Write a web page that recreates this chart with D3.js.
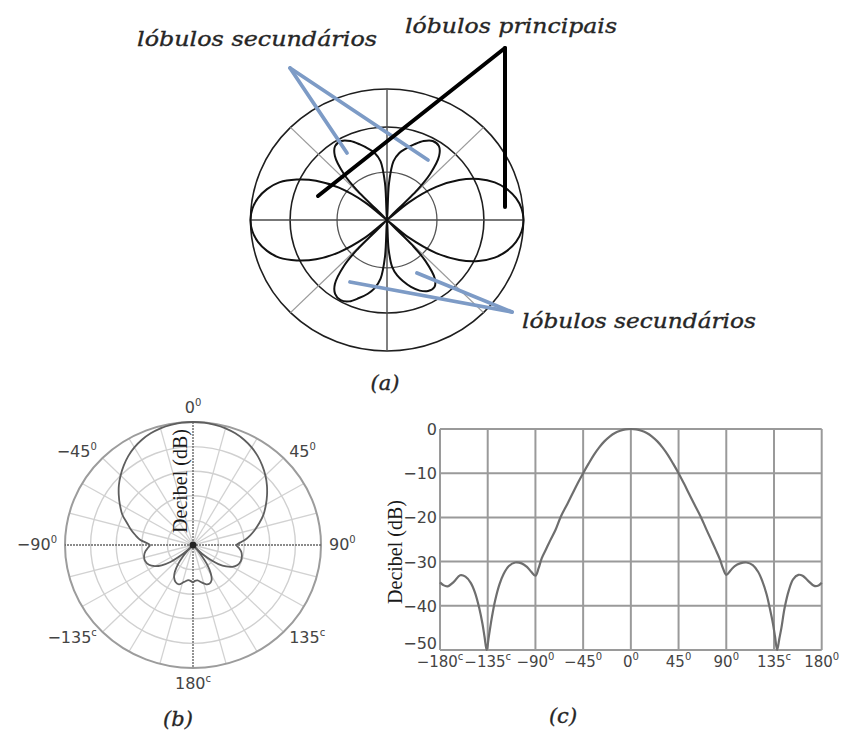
<!DOCTYPE html>
<html>
<head>
<meta charset="utf-8">
<script src="https://cdn.jsdelivr.net/npm/d3@7"></script>
<style>
  html, body { margin: 0; padding: 0; background: #fff; }
  svg { display: block; }
</style>
</head>
<body>
<svg id="fig" width="845" height="735"></svg>
<script>
// ---------- data ----------
// (a) conceptual radiation pattern: relative field (1 = outer ring) at angles measured
// from the horizontal axis towards the vertical axis, one list per quadrant
const lobeAngles = [0, 5, 10, 15, 20, 25, 30, 35, 40, 43, 46, 48, 52, 56, 61, 66, 71, 76, 80, 84, 87, 90];
const quadrantNE = [1.00, 0.99, 0.96, 0.91, 0.84, 0.74, 0.61, 0.44, 0.21, 0.00, 0.32, 0.47, 0.62, 0.68, 0.69, 0.66, 0.61, 0.56, 0.52, 0.45, 0.28, 0.00];
const quadrantNW = [1.00, 0.99, 0.96, 0.91, 0.84, 0.73, 0.60, 0.43, 0.21, 0.00, 0.32, 0.47, 0.62, 0.68, 0.69, 0.66, 0.61, 0.56, 0.52, 0.45, 0.28, 0.00];
const quadrantSW = [1.00, 0.99, 0.96, 0.91, 0.84, 0.73, 0.60, 0.43, 0.21, 0.00, 0.32, 0.47, 0.62, 0.68, 0.70, 0.68, 0.63, 0.58, 0.53, 0.45, 0.28, 0.00];
const quadrantSE = [1.00, 0.99, 0.96, 0.91, 0.84, 0.74, 0.61, 0.44, 0.21, 0.00, 0.27, 0.42, 0.57, 0.62, 0.62, 0.59, 0.54, 0.48, 0.43, 0.36, 0.22, 0.00];
const ringLevelsA = [1, 0.71, 0.366];

// (b) and (c) measured pattern: angle (degrees) and level (dB)
const patternDeg = [-180, -177, -173, -167, -161, -156, -151, -147, -143, -140, -138, -136, -134, -131, -128, -124, -120, -115, -109, -103, -98, -94, -90, -87, -84, -80, -76, -71, -66, -60, -55, -50, -45, -40, -35, -30, -25, -20, -15, -10, -5, 0,
  5, 10, 15, 20, 25, 30, 35, 40, 45, 50, 55, 60, 66, 71, 76, 80, 84, 87, 90, 94, 98, 103, 109, 115, 120, 124, 128, 131, 134, 136, 138, 140, 142, 145, 149, 153, 158, 162, 167, 173, 177, 180];
const patternDb = [-34.7, -35.3, -35.6, -34.6, -33.1, -33.4, -34.8, -37.0, -40.5, -44.0, -47.0, -50.0, -47.0, -42.5, -38.8, -35.2, -32.8, -31.0, -30.2, -30.4, -31.2, -32.3, -33.2, -31.5, -29.2, -27.2, -25.2, -22.8, -19.8, -17.0, -14.6, -12.2, -10.0, -7.9, -5.9, -4.2, -2.8, -1.7, -0.9, -0.4, -0.1, 0.0,
  -0.1, -0.4, -0.9, -1.7, -2.8, -4.2, -5.9, -7.9, -10.0, -12.3, -14.7, -17.1, -19.9, -22.6, -25.2, -27.3, -29.5, -31.6, -33.0, -32.0, -31.0, -30.4, -30.2, -30.8, -32.3, -34.4, -37.4, -40.5, -44.0, -47.0, -50.0, -47.5, -45.0, -40.5, -36.5, -34.0, -33.0, -33.2, -34.3, -35.5, -35.4, -34.8];

// polar (b) grid and labels
const ringDbB = [-40, -30, -20, -10, 0];
const spokeStepB = 15;
const polarLabelDeg = [0, 45, 90, 135, 180, -135, -90, -45];
const polarLabelText = ["0", "45", "90", "135", "180", "\u2212135", "\u221290", "\u221245"];
const polarLabelMark = ["0", "0", "0", "c", "c", "c", "0", "0"];

// rectangular (c) ticks
const xTicksC = [-180, -135, -90, -45, 0, 45, 90, 135, 180];
const xTickTextC = ["\u2212180", "\u2212135", "\u221290", "\u221245", "0", "45", "90", "135", "180"];
const xTickMarkC = ["c", "c", "0", "0", "0", "0", "0", "c", "0"];
const yTicksC = [0, -10, -20, -30, -40, -50];

// ---------- drawing ----------
const svg = d3.select("#fig");
const serifItalic = "'DejaVu Serif', serif";
const sans = "'DejaVu Sans', sans-serif";
const rad = d => d * Math.PI / 180;

// ===== (a) =====
const gA = svg.append("g");
const cxA = 387, cyA = 220, rxA = 136.5, ryA = 131;
const ax = d3.scaleLinear().domain([-1, 1]).range([cxA - rxA, cxA + rxA]);
const ay = d3.scaleLinear().domain([-1, 1]).range([cyA + ryA, cyA - ryA]);

// rings
gA.selectAll("ellipse.ring").data(ringLevelsA).join("ellipse")
  .attr("cx", ax(0)).attr("cy", ay(0))
  .attr("rx", d => ax(d) - ax(0)).attr("ry", d => ay(0) - ay(d))
  .attr("fill", "none")
  .attr("stroke", (d, i) => i < 2 ? "#1e1e1e" : "#555")
  .attr("stroke-width", (d, i) => i < 2 ? 1.6 : 1.3);

// diagonal spokes
[45, 135].forEach(a => {
  gA.append("line")
    .attr("x1", ax(Math.cos(rad(a)))).attr("y1", ay(Math.sin(rad(a))))
    .attr("x2", ax(-Math.cos(rad(a)))).attr("y2", ay(-Math.sin(rad(a))))
    .attr("stroke", "#9a9a9a").attr("stroke-width", 1.3);
});
// main axes
[0, 90].forEach(a => {
  gA.append("line")
    .attr("x1", ax(Math.cos(rad(a)))).attr("y1", ay(Math.sin(rad(a))))
    .attr("x2", ax(-Math.cos(rad(a)))).attr("y2", ay(-Math.sin(rad(a))))
    .attr("stroke", "#4a4a4a").attr("stroke-width", 1.4);
});

// assemble the closed pattern, quadrant by quadrant
const ptsA = [];
const n = lobeAngles.length;
lobeAngles.forEach((a, i) => ptsA.push({ t: a, r: quadrantNE[i] }));
for (let i = n - 2; i >= 0; i--) ptsA.push({ t: 180 - lobeAngles[i], r: quadrantNW[i] });
for (let i = 1; i < n; i++) ptsA.push({ t: 180 + lobeAngles[i], r: quadrantSW[i] });
for (let i = n - 2; i >= 1; i--) ptsA.push({ t: 360 - lobeAngles[i], r: quadrantSE[i] });

const lineA = d3.line()
  .x(d => ax(d.r * Math.cos(rad(d.t))))
  .y(d => ay(d.r * Math.sin(rad(d.t))))
  .curve(d3.curveCatmullRomClosed.alpha(0.5));
gA.append("path").attr("d", lineA(ptsA))
  .attr("fill", "none").attr("stroke", "#111").attr("stroke-width", 2);

// callout lines
const blue = "#7d9bc6";
const callouts = [
  { x1: 290, y1: 68, x2: 347, y2: 153, c: blue, w: 3.8 },
  { x1: 290, y1: 68, x2: 428, y2: 160, c: blue, w: 3.8 },
  { x1: 512, y1: 312, x2: 350, y2: 282, c: blue, w: 3.8 },
  { x1: 512, y1: 312, x2: 417, y2: 273, c: blue, w: 3.8 },
  { x1: 505, y1: 48, x2: 318, y2: 196, c: "#000", w: 4 },
  { x1: 505, y1: 48, x2: 505, y2: 207, c: "#000", w: 4 }
];
gA.selectAll("line.call").data(callouts).join("line")
  .attr("x1", d => d.x1).attr("y1", d => d.y1).attr("x2", d => d.x2).attr("y2", d => d.y2)
  .attr("stroke", d => d.c).attr("stroke-width", d => d.w).attr("stroke-linecap", "round");

function italicLabel(x, y, text, len) {
  const t = svg.append("text").attr("x", x).attr("y", y)
    .attr("font-family", serifItalic).attr("font-style", "italic")
    .attr("font-size", 21).attr("fill", "#262626")
    .attr("stroke", "#262626").attr("stroke-width", 0.35).text(text);
  if (len) t.attr("textLength", len).attr("lengthAdjust", "spacingAndGlyphs");
  return t;
}
italicLabel(137, 46, "lóbulos secundários", 240);
italicLabel(405, 33, "lóbulos principais", 212);
italicLabel(522, 328, "lóbulos secundários", 234);
italicLabel(385, 390, "(a)").attr("text-anchor", "middle");

// ===== (b) =====
const gB = svg.append("g");
const cxB = 193, cyB = 545, rxB = 128, ryB = 123;
const rB = d3.scaleLinear().domain([-50, 0]).range([0, 1]).clamp(true);
const bx = d3.scaleLinear().domain([-1, 1]).range([cxB - rxB, cxB + rxB]);
const by = d3.scaleLinear().domain([-1, 1]).range([cyB + ryB, cyB - ryB]);

// light spokes
const spokes = d3.range(0, 360, spokeStepB).filter(a => a % 90 !== 0);
gB.selectAll("line.spoke").data(spokes).join("line")
  .attr("x1", bx(0)).attr("y1", by(0))
  .attr("x2", a => bx(Math.sin(rad(a)))).attr("y2", a => by(Math.cos(rad(a))))
  .attr("stroke", "#d2d2d2").attr("stroke-width", 1.3);
// rings
gB.selectAll("ellipse.ring").data(ringDbB).join("ellipse")
  .attr("cx", bx(0)).attr("cy", by(0))
  .attr("rx", d => bx(rB(d)) - bx(0)).attr("ry", d => by(0) - by(rB(d)))
  .attr("fill", "none")
  .attr("stroke", d => d === 0 ? "#9c9c9c" : "#d0d0d0")
  .attr("stroke-width", d => d === 0 ? 2 : 1.4);
// main axes (dotted)
[0, 90].forEach(a => {
  gB.append("line")
    .attr("x1", bx(Math.sin(rad(a)))).attr("y1", by(Math.cos(rad(a))))
    .attr("x2", bx(-Math.sin(rad(a)))).attr("y2", by(-Math.cos(rad(a))))
    .attr("stroke", "#666").attr("stroke-width", 1.4).attr("stroke-dasharray", "2,1");
});

const ptsB = patternDeg.map((d, i) => ({ t: d, v: patternDb[i] })).filter(d => d.t > -180);
const lineB = d3.line()
  .x(d => bx(rB(d.v) * Math.sin(rad(d.t))))
  .y(d => by(rB(d.v) * Math.cos(rad(d.t))))
  .curve(d3.curveCatmullRomClosed.alpha(0.5));
gB.append("path").attr("d", lineB(ptsB))
  .attr("fill", "none").attr("stroke", "#5e5e5e").attr("stroke-width", 1.8);
gB.append("circle").attr("cx", bx(0)).attr("cy", by(0)).attr("r", 3.5).attr("fill", "#222");

// angle labels
function supLabel(sel, text, mark) {
  sel.append("tspan").text(text);
  sel.append("tspan").attr("font-size", 10).attr("dy", -7).text(mark);
}
polarLabelDeg.forEach((a, i) => {
  const s = Math.sin(rad(a)), c = Math.cos(rad(a));
  const lx = cxB + (rxB + 8) * s, ly = cyB - (ryB + 8) * c;
  const anchor = s > 0.1 ? "start" : (s < -0.1 ? "end" : "middle");
  const dy = c > 0.9 ? -1 : (c < -0.9 ? 13 : 5);
  const t = svg.append("text").attr("x", lx).attr("y", ly + dy)
    .attr("text-anchor", anchor).attr("font-family", sans).attr("font-size", 16).attr("fill", "#444");
  supLabel(t, polarLabelText[i], polarLabelMark[i]);
});
svg.append("text").attr("transform", `translate(187,481) rotate(-90)`)
  .attr("text-anchor", "middle").attr("font-family", "'Liberation Serif', serif")
  .attr("font-size", 20).attr("fill", "#1a1a1a").text("Decibel (dB)");
italicLabel(178, 726, "(b)").attr("text-anchor", "middle");

// ===== (c) =====
const gC = svg.append("g");
const xC = d3.scaleLinear().domain([-180, 180]).range([440, 821.7]);
const yC = d3.scaleLinear().domain([-50, 0]).range([650, 429]);

gC.selectAll("line.vg").data(xTicksC).join("line")
  .attr("x1", d => xC(d)).attr("x2", d => xC(d)).attr("y1", yC(0)).attr("y2", yC(-50))
  .attr("stroke", "#9a9a9a").attr("stroke-width", 2);
gC.selectAll("line.hg").data(yTicksC).join("line")
  .attr("y1", d => yC(d)).attr("y2", d => yC(d)).attr("x1", xC(-180)).attr("x2", xC(180))
  .attr("stroke", "#9a9a9a").attr("stroke-width", 2);

const lineC = d3.line().x((d, i) => xC(patternDeg[i])).y(d => yC(d)).curve(d3.curveCatmullRom.alpha(0.5));
gC.append("path").attr("d", lineC(patternDb))
  .attr("fill", "none").attr("stroke", "#6e6e6e").attr("stroke-width", 2.2);

xTicksC.forEach((d, i) => {
  const t = svg.append("text").attr("x", xC(d)).attr("y", 667)
    .attr("text-anchor", "middle").attr("font-family", sans).attr("font-size", 15).attr("fill", "#444");
  supLabel(t, xTickTextC[i], xTickMarkC[i]);
});
yTicksC.forEach(v => {
  svg.append("text").attr("x", 437).attr("y", Math.min(yC(v) + 6, yC(-50) - 1))
    .attr("text-anchor", "end").attr("font-family", sans).attr("font-size", 16).attr("fill", "#444")
    .text(v === 0 ? "0" : "\u2212" + Math.abs(v));
});
svg.append("text").attr("transform", `translate(402,552) rotate(-90)`)
  .attr("text-anchor", "middle").attr("font-family", "'Liberation Serif', serif")
  .attr("font-size", 20).attr("fill", "#1a1a1a").text("Decibel (dB)");
italicLabel(563, 723, "(c)").attr("text-anchor", "middle");
</script>
</body>
</html>
